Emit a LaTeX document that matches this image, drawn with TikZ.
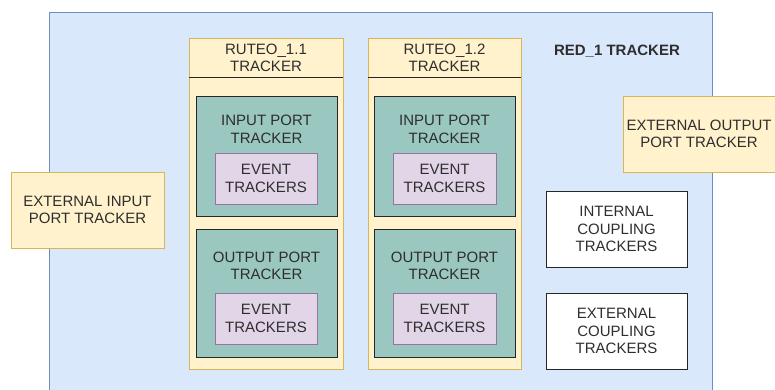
\documentclass[tikz,border=0pt]{standalone}
\usepackage{fontspec}
\setmainfont{Liberation Sans}
\definecolor{bluefill}{HTML}{DAE8FC}
\definecolor{bluedraw}{HTML}{6C8EBF}
\definecolor{yelfill}{HTML}{FFF2CC}
\definecolor{yeldraw}{HTML}{D6B656}
\definecolor{tealfill}{HTML}{9AC7BF}
\definecolor{purfill}{HTML}{E1D5E7}
\definecolor{purdraw}{HTML}{9673A6}
\definecolor{txt}{HTML}{2E2E2E}
\tikzset{
  box/.style={rectangle, inner sep=0pt, align=center, text=txt, line width=1pt,
    font=\fontsize{15}{17.5}\selectfont},
  yelbox/.style={box, fill=yelfill, draw=yeldraw},
  tealbox/.style={box, fill=tealfill, draw=black!85, minimum width=141pt},
  evbox/.style={box, fill=purfill, draw=purdraw, minimum height=51pt},
  whitebox/.style={box, fill=white, draw=black!85, minimum width=141pt, minimum height=76pt},
  lbl/.style={inner sep=0pt, align=center, text=txt, font=\fontsize{15}{17.5}\selectfont},
}
\begin{document}
\begin{tikzpicture}[x=1pt,y=-1pt]
\useasboundingbox (0,0) rectangle (775,389);
\clip (0,0) rectangle (775,389);
\fill[white] (0,0) rectangle (775,389);
% outer container
\node[box, fill=bluefill, draw=bluedraw, minimum width=663pt, minimum height=388pt] (red) at (380.5,206) {};
\node[lbl, font=\fontsize{15}{17.5}\selectfont\bfseries] (redlbl) at (617,51) {RED\_1 TRACKER};
% ruteo 1.1
\node[yelbox, minimum width=154pt, minimum height=331pt] (r1) at (266,203.5) {};
\draw[line width=1pt, black!85] (189,77) -- (343,77);
\node[lbl] (r1lbl) at (266,58) {RUTEO\_1.1\\TRACKER};
\node[tealbox, minimum height=120pt] (in1) at (266.5,156) {};
\node[lbl] (in1lbl) at (266.5,129.5) {INPUT PORT\\TRACKER};
\node[evbox, minimum width=102pt] (ev1) at (266,178.5) {EVENT\\TRACKERS};
\node[tealbox, minimum height=128pt] (out1) at (266.5,293) {};
\node[lbl] (out1lbl) at (266.5,266) {OUTPUT PORT\\TRACKER};
\node[evbox, minimum width=102pt] (ev2) at (266,318.5) {EVENT\\TRACKERS};
% ruteo 1.2
\node[yelbox, minimum width=153pt, minimum height=331pt] (r2) at (444.5,203.5) {};
\draw[line width=1pt, black!85] (368,77) -- (521,77);
\node[lbl] (r2lbl) at (444.5,58) {RUTEO\_1.2\\TRACKER};
\node[tealbox, minimum height=120pt] (in2) at (444.5,156) {};
\node[lbl] (in2lbl) at (444.5,129.5) {INPUT PORT\\TRACKER};
\node[evbox, minimum width=103pt] (ev3) at (444.5,178.5) {EVENT\\TRACKERS};
\node[tealbox, minimum height=128pt] (out2) at (444.5,293) {};
\node[lbl] (out2lbl) at (444.5,266) {OUTPUT PORT\\TRACKER};
\node[evbox, minimum width=103pt] (ev4) at (444.5,318.5) {EVENT\\TRACKERS};
% right side
\node[yelbox, minimum width=152pt, minimum height=76pt] (extout) at (699,134) {EXTERNAL OUTPUT\\PORT TRACKER};
\node[whitebox] (intc) at (616.5,229) {INTERNAL\\COUPLING\\TRACKERS};
\node[whitebox] (extc) at (616.5,331) {EXTERNAL\\COUPLING\\TRACKERS};
% left
\node[yelbox, minimum width=153pt, minimum height=76pt] (extin) at (87.5,210) {EXTERNAL INPUT\\PORT TRACKER};
\end{tikzpicture}
\end{document}
